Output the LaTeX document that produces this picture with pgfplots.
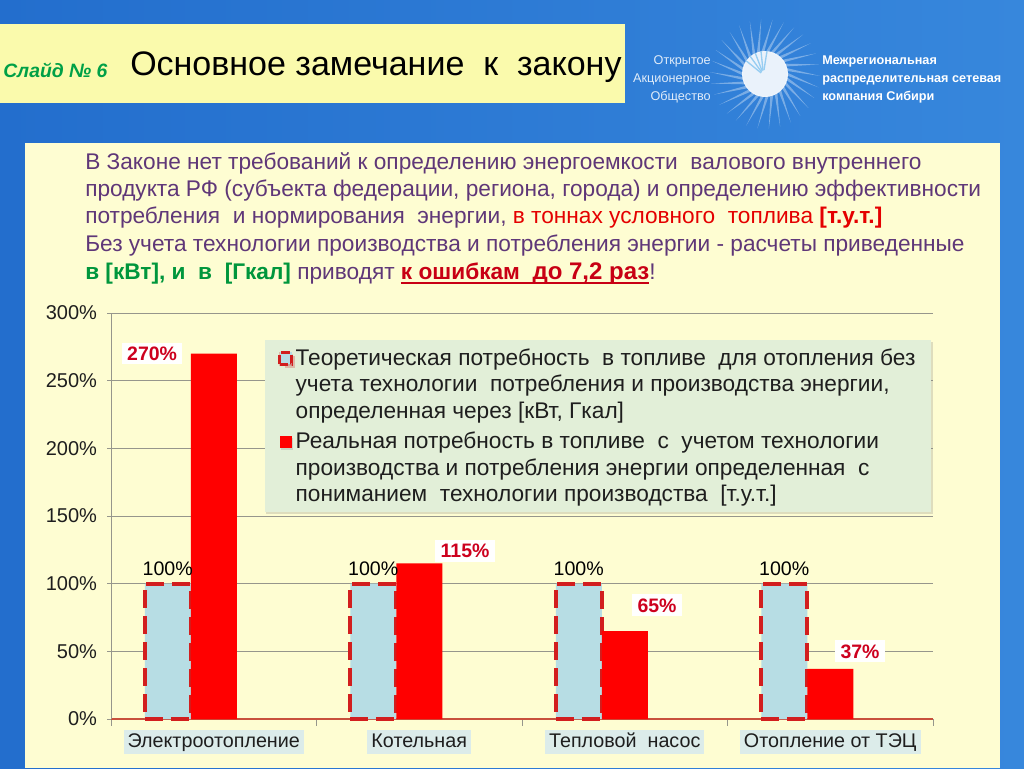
\documentclass[border=0pt]{standalone}
\usepackage{pgfplots}
\pgfplotsset{compat=1.18}
\usepackage{fontspec}
\setmainfont{Liberation Sans}
\usetikzlibrary{shadows}
\newcommand\myul[1]{\setbox0\hbox{#1}\rlap{\rule[-3pt]{\wd0}{1.1pt}}\box0}
\definecolor{bgA}{RGB}{35,110,205}
\definecolor{bgB}{RGB}{150,205,242}
\definecolor{bgC}{RGB}{55,135,220}
\definecolor{hdr}{RGB}{250,250,172}
\definecolor{content}{RGB}{254,253,210}
\definecolor{slidegreen}{RGB}{0,160,70}
\definecolor{ptxt}{RGB}{95,55,120}
\definecolor{rtxt}{RGB}{228,0,0}
\definecolor{gtxt}{RGB}{0,150,60}
\definecolor{drtxt}{RGB}{200,0,20}
\definecolor{barblue}{RGB}{183,221,228}
\definecolor{dashred}{RGB}{210,30,30}
\definecolor{barred}{RGB}{255,0,0}
\definecolor{axred}{RGB}{200,80,60}
\definecolor{gridgray}{RGB}{150,150,140}
\definecolor{catbg}{RGB}{220,236,234}
\definecolor{legbg}{RGB}{226,239,216}
\definecolor{lblred}{RGB}{205,0,30}
\definecolor{darktext}{RGB}{30,30,30}
\begin{document}
\begin{tikzpicture}[x=0.75pt,y=-0.75pt]
\useasboundingbox (0,0) rectangle (1024,768);
\shade[left color=bgA, middle color=bgB, right color=bgC] (0,0) rectangle (1024,768);
% header
\fill[hdr] (0,24) rectangle (625,103);
\node[anchor=west, text=slidegreen, font=\bfseries\itshape\fontsize{14.5}{16}\selectfont, inner sep=0pt] at (3,70) {Слайд № 6};
\node[anchor=west, font=\fontsize{25.5}{28}\selectfont, inner sep=0pt] at (130,67) {Основное замечание\ \ к\ \ закону};
% logo
\begin{scope}[shift={(765,74)}]
\foreach \a in {0,12,...,348} {
  \fill[white, opacity=0.35] (\a-4:22) -- (\a+14:55) -- (\a+4:22) -- cycle;
}
\fill[white, opacity=0.9] (0,0) circle (23);
\foreach \a in {195,210,...,255} {\draw[bgB, line width=1pt] (\a:4) -- (\a+20:23);}
\end{scope}
\node[anchor=east, align=right, text=white, opacity=0.85, font=\fontsize{9.5}{13.5}\selectfont, inner sep=0pt] at (711,79) {Открытое\\Акционерное\\Общество};
\node[anchor=west, align=left, text=white, font=\bfseries\fontsize{9.5}{13.5}\selectfont, inner sep=0pt] at (822,79) {Межрегиональная\\распределительная сетевая\\компания Сибири};
% content box
\fill[content] (25,143) rectangle (1000,768);
\begin{scope}[every node/.style={anchor=west, inner sep=0pt, font=\fontsize{17}{19}\selectfont, text=ptxt}]
\node at (85,163) {В Законе нет требований к определению энергоемкости\ \ валового внутреннего};
\node at (85,191) {продукта РФ (субъекта федерации, региона, города) и определению эффективности};
\node at (85,218) {потребления\ \ и нормирования\ \ энергии, \textcolor{rtxt}{в тоннах условного\ \ топлива \textbf{[т.у.т.]}}};
\node at (85,246) {Без учета технологии производства и потребления энергии - расчеты приведенные};
\node at (85,274) {\textcolor{gtxt}{\textbf{в [кВт], и\ \ в\ \ [Гкал]}} приводят \textcolor{drtxt}{\bfseries\myul{к ошибкам\ \ {\fontsize{18}{19}\selectfont до 7,2 раз}}}!};
\end{scope}
\begin{axis}[
  at={(83.25pt,-539.25pt)}, anchor=south west,
  scale only axis, width=616.5pt, height=304.5pt,
  xmin=-0.5, xmax=3.5, ymin=0, ymax=300,
  ybar, clip=false,
  axis x line=bottom, axis y line=left, axis line style={-},
  x axis line style={draw=axred, line width=0.9pt},
  y axis line style={draw=gridgray, line width=0.7pt},
  tick align=outside,
  ytick={0,50,100,150,200,250,300},
  yticklabels={0\%,50\%,100\%,150\%,200\%,250\%,300\%},
  yticklabel style={font=\fontsize{15}{17}\selectfont, text=darktext, xshift=-4pt},
  major tick length=3pt,
  ytick style={draw=gridgray, line width=0.6pt},
  ymajorgrids, grid style={draw=gridgray, line width=0.6pt},
  xtick={0,1,2,3},
  xticklabels={Электроотопление, Котельная, Тепловой\ \ насос, Отопление от ТЭЦ},
  major x tick style={draw=none},
  minor xtick={-0.5,0.5,1.5,2.5,3.5},
  minor x tick style={draw=gridgray, line width=0.6pt},
  minor tick length=5pt,
  x tick label style={fill=catbg, font=\fontsize{14.8}{17}\selectfont, text=darktext, inner xsep=3pt, inner ysep=1.5pt, text height=11.5pt, text depth=3.5pt, yshift=-5pt},
  legend style={at={(0.187,0.933)}, anchor=north west, fill=legbg, draw=none,
    drop shadow={shadow xshift=1pt, shadow yshift=-1.5pt, opacity=0.25},
    font=\fontsize{17}{20}\selectfont, text=darktext,
    cells={align=left, anchor=west}, row sep=4.5pt, inner xsep=10pt, inner ysep=4pt},
]
\addplot[fill=barblue, draw=dashred, line width=3pt, dash pattern=on 13.5pt off 6pt,
  bar width=34.5pt, bar shift=-34.5pt,
  nodes near coords={\pgfmathprintnumber[assume math mode=true]{\pgfplotspointmeta}\%},
  every node near coord/.append style={font=\fontsize{14.7}{16}\selectfont, text=black, yshift=1pt},
  legend image code/.code={\draw[fill=barblue, draw=dashred, line width=2pt, dash pattern=on 7pt off 3pt] (0pt,15pt) rectangle (9pt,24pt);}]
  coordinates {(0,100) (1,100) (2,100) (3,100)};
\addlegendentry{Теоретическая потребность\ \ в топливе\ \ для отопления без\\учета технологии\ \ потребления и производства энергии,\\определенная через [кВт, Гкал]}
\addplot[fill=barred, draw=none, bar width=34.5pt, bar shift=0pt,
  legend image code/.code={\fill[barred] (0pt,15pt) rectangle (9pt,24pt);}]
  coordinates {(0,270) (1,115) (2,65) (3,37)};
\addlegendentry{Реальная потребность в топливе\ \ с\ \ учетом технологии\\производства и потребления энергии определенная\ \ с\\пониманием\ \ технологии производства\ \ [т.у.т.]}
\begin{scope}[every node/.style={fill=white, text=lblred, font=\bfseries\fontsize{14.6}{16}\selectfont, inner xsep=4pt, inner ysep=3pt}]
\node at (axis cs:-0.30,270) {270\%};
\node at (axis cs:1.223,124) {115\%};
\node at (axis cs:2.157,84) {65\%};
\node at (axis cs:3.145,50) {37\%};
\end{scope}
\end{axis}
\end{tikzpicture}
\end{document}
